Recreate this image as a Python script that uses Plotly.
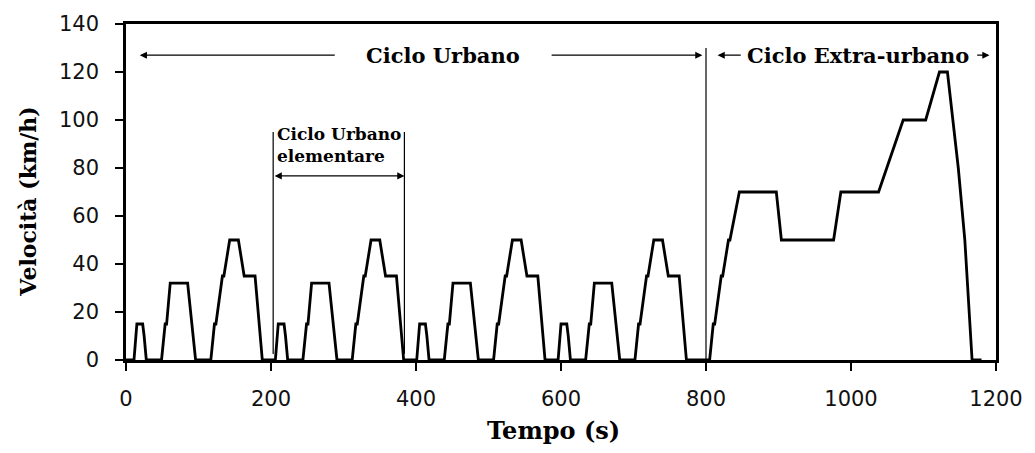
import plotly.graph_objects as go

# ECE-15 elementary urban cycle (one repetition): time [s], speed [km/h]
urban_t = [0, 11, 15, 23, 25, 28, 49, 54, 56, 61, 85, 93, 96, 117, 122, 124,
           133, 135, 143, 155, 163, 178, 185, 188, 195]
urban_v = [0, 0, 15, 15, 10, 0, 0, 15, 15, 32, 32, 10, 0, 0, 15, 15,
           35, 35, 50, 50, 35, 35, 10, 0, 0]
urban_period = 195
urban_repeats = 4

# Extra-urban cycle: time [s], speed [km/h]
extra_t = [805, 810, 812, 821, 823, 831, 833, 846, 897, 904, 976, 986,
           1038, 1072, 1103, 1122, 1133, 1148, 1157, 1167, 1180]
extra_v = [0, 15, 15, 35, 35, 50, 50, 70, 70, 50, 50, 70,
           70, 100, 100, 120, 120, 80, 50, 0, 0]

x_ticks = [0, 200, 400, 600, 800, 1000, 1200]
y_ticks = [0, 20, 40, 60, 80, 100, 120, 140]
x_range = [0, 1200]
y_range = [0, 140]

# Phase markers (s) and label heights (km/h)
urban_end = 800
elem_start, elem_end = 203, 384
phase_arrow_y = 127
elem_arrow_y = 76.7

time_s, speed = [], []
for k in range(urban_repeats):
    time_s += [t + k * urban_period for t in urban_t]
    speed += urban_v
time_s += extra_t
speed += extra_v

fig = go.Figure(go.Scatter(
    x=time_s, y=speed, mode="lines",
    line=dict(color="black", width=2.8),
    hoverinfo="skip", showlegend=False,
))

SERIF = "DejaVu Serif"
SANS = "DejaVu Sans"


def arrow(head, tail, y, both=False):
    return dict(
        x=head, y=y, ax=tail, ay=y, xref="x", yref="y", axref="x", ayref="y",
        text="", showarrow=True, arrowhead=2, arrowsize=1.1, arrowwidth=1.3,
        arrowcolor="black", arrowside="end+start" if both else "end",
        standoff=0, startstandoff=0,
    )


annotations = [
    # Urban cycle
    arrow(19, 290, phase_arrow_y),
    arrow(795, 585, phase_arrow_y),
    dict(x=437, y=phase_arrow_y, xref="x", yref="y", showarrow=False,
         text="<b>Ciclo Urbano</b>",
         font=dict(family=SERIF, size=21, color="black")),
    # Extra-urban cycle
    arrow(816, 850, phase_arrow_y),
    arrow(1191, 1172, phase_arrow_y),
    dict(x=1009, y=phase_arrow_y, xref="x", yref="y", showarrow=False,
         text="<b>Ciclo Extra-urbano</b>",
         font=dict(family=SERIF, size=21, color="black")),
    # Elementary urban cycle
    arrow(elem_end, elem_start, elem_arrow_y, both=True),
    dict(x=elem_start + 3, y=99, xref="x", yref="y", showarrow=False,
         xanchor="left", yanchor="top", align="left",
         text="<b>Ciclo Urbano<br>elementare</b>",
         font=dict(family=SERIF, size=17, color="black")),
    # Axis titles
    dict(x=0.491, y=-0.21, xref="paper", yref="paper", showarrow=False,
         xanchor="center", yanchor="middle", text="<b>Tempo (s)</b>",
         font=dict(family=SERIF, size=24, color="black")),
    dict(x=-0.112, y=0.47, xref="paper", yref="paper", showarrow=False,
         xanchor="center", yanchor="middle", textangle=-90,
         text="<b>Velocità (km/h)</b>",
         font=dict(family=SERIF, size=22, color="black")),
]

shapes = [
    dict(type="line", xref="x domain", yref="y domain",
         x0=(urban_end - x_range[0]) / (x_range[1] - x_range[0]),
         x1=(urban_end - x_range[0]) / (x_range[1] - x_range[0]),
         y0=-0.02, y1=130 / y_range[1],
         line=dict(color="black", width=1.2)),
    dict(type="line", xref="x", yref="y", x0=elem_start, x1=elem_start,
         y0=2.5, y1=95, line=dict(color="black", width=1.2)),
    dict(type="line", xref="x", yref="y", x0=elem_end, x1=elem_end,
         y0=2.5, y1=95, line=dict(color="black", width=1.2)),
]

axis_common = dict(
    showgrid=False, zeroline=False, showline=True, linecolor="black",
    linewidth=2.5, mirror=True, ticks="outside", ticklen=8, tickwidth=2,
    tickcolor="black", tickfont=dict(family=SANS, size=21, color="#111"),
)

fig.update_xaxes(range=x_range, tickvals=x_ticks, ticklabelstandoff=10,
                 **axis_common)
fig.update_yaxes(range=y_range, tickvals=y_ticks, ticklabelstandoff=12,
                 **axis_common)

fig.update_layout(
    width=1035, height=453,
    margin=dict(l=126, r=35, t=24, b=93),
    paper_bgcolor="white", plot_bgcolor="white",
    annotations=annotations, shapes=shapes,
)

fig.write_html("out.html")
